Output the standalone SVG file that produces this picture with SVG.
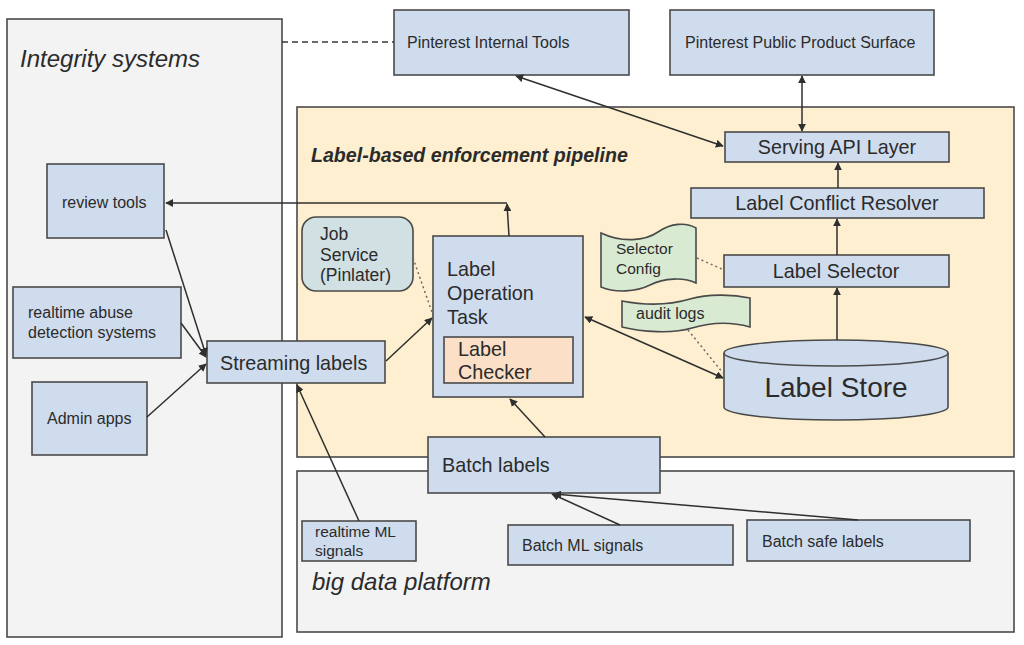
<svg xmlns="http://www.w3.org/2000/svg" width="1024" height="645" viewBox="0 0 1024 645">
<defs>
<style>
text{font-family:"Liberation Sans",Arial,sans-serif;fill:#2b2b2b}
.box{fill:#cfdcee;stroke:#4a4a4a;stroke-width:1.6}
.cont{fill:#f3f3f3;stroke:#4a4a4a;stroke-width:1.6}
.doc{fill:#d9ead3;stroke:#4a4a4a;stroke-width:1.6}
.c{fill:none;stroke:#2f2f2f;stroke-width:1.5}
.dot{fill:none;stroke:#6a6a6a;stroke-width:1.5;stroke-dasharray:2 3}
.s16{font-size:16px}
.s20{font-size:19.8px}
.ti{font-size:24px;font-style:italic}
</style>
<marker id="ah" viewBox="0 0 10 10" refX="9" refY="5" markerWidth="8" markerHeight="8" markerUnits="userSpaceOnUse" orient="auto-start-reverse">
<path d="M0,0 L10,5 L0,10 Z" fill="#2f2f2f"/>
</marker>
</defs>
<rect width="1024" height="645" fill="#ffffff"/>

<g id="integrity-systems">
<rect class="cont" x="7" y="19" width="275" height="618"/>
<text class="ti" x="20" y="67">Integrity systems</text>
</g>
<g id="pipeline">
<rect x="297" y="107" width="717" height="350" fill="#fdefcf" stroke="#4a4a4a" stroke-width="1.6"/>
<text x="311" y="162" style="font-size:19.6px;font-weight:bold;font-style:italic">Label-based enforcement pipeline</text>
</g>
<g id="big-data-platform">
<rect class="cont" x="297" y="471" width="717" height="161"/>
<text class="ti" x="312" y="590">big data platform</text>
</g>

<g id="internal-tools">
<rect class="box" x="394" y="10" width="235" height="65"/>
<text class="s16" x="407" y="48">Pinterest Internal Tools</text>
</g>
<g id="public-surface">
<rect class="box" x="670" y="10" width="264" height="65"/>
<text class="s16" x="685" y="48">Pinterest Public Product Surface</text>
</g>
<g id="serving-api">
<rect class="box" x="725" y="132" width="224" height="30"/>
<text class="s20" x="837" y="154" text-anchor="middle">Serving API Layer</text>
</g>
<g id="conflict-resolver">
<rect class="box" x="691" y="188" width="293" height="30"/>
<text class="s20" x="837" y="210" text-anchor="middle">Label Conflict Resolver</text>
</g>
<g id="label-selector">
<rect class="box" x="724" y="255" width="225" height="32"/>
<text class="s20" x="836" y="278" text-anchor="middle">Label Selector</text>
</g>
<g id="label-store">
<path class="box" d="M724,353 A112,13 0 0 1 948,353 L948,407 A112,13 0 0 1 724,407 Z"/>
<path d="M724,353 A112,13 0 0 0 948,353" fill="none" stroke="#4a4a4a" stroke-width="1.6"/>
<text x="836" y="397" text-anchor="middle" style="font-size:28px">Label Store</text>
</g>
<g id="selector-config">
<path class="doc" d="M601,233 C622,243 645,241 658,232 C671,223 686,222 696,228 L696,283 C684,277 664,278 650,285 C636,292 615,293 601,287 Z"/>
<text x="616" y="254" style="font-size:15.5px">Selector</text>
<text x="616" y="274" style="font-size:15.5px">Config</text>
</g>
<g id="audit-logs">
<path class="doc" d="M622,301 C648,306 670,305 690,299 C710,293 735,295 750,298 L750,327 C732,322 712,322 692,328 C672,334 642,332 622,327 Z"/>
<text class="s16" x="636" y="319">audit logs</text>
</g>
<g id="job-service">
<rect x="302" y="217" width="111" height="74" rx="14" fill="#d0e0e3" stroke="#4a4a4a" stroke-width="1.6"/>
<text x="320" y="240" style="font-size:17.5px">Job</text>
<text x="320" y="261" style="font-size:17.5px">Service</text>
<text x="320" y="281" style="font-size:17.5px">(Pinlater)</text>
</g>
<g id="label-operation-task">
<rect class="box" x="433" y="236" width="150" height="161"/>
<text class="s20" x="447" y="276">Label</text>
<text class="s20" x="447" y="300">Operation</text>
<text class="s20" x="447" y="324">Task</text>
</g>
<g id="label-checker">
<rect x="444" y="337" width="129" height="46" fill="#fbdfc7" stroke="#4a4a4a" stroke-width="1.6"/>
<text class="s20" x="458" y="356">Label</text>
<text class="s20" x="458" y="379">Checker</text>
</g>
<g id="streaming-labels">
<rect class="box" x="207" y="341" width="178" height="42"/>
<text class="s20" x="220" y="370">Streaming labels</text>
</g>
<g id="review-tools">
<rect class="box" x="47" y="164" width="117" height="74"/>
<text class="s16" x="62" y="208">review tools</text>
</g>
<g id="realtime-abuse">
<rect class="box" x="13" y="287" width="168" height="71"/>
<text class="s16" x="28" y="318">realtime abuse</text>
<text class="s16" x="28" y="338">detection systems</text>
</g>
<g id="admin-apps">
<rect class="box" x="32" y="382" width="115" height="73"/>
<text class="s16" x="47" y="424">Admin apps</text>
</g>
<g id="batch-labels">
<rect class="box" x="428" y="437" width="232" height="56"/>
<text class="s20" x="442" y="472">Batch labels</text>
</g>
<g id="realtime-ml-signals">
<rect class="box" x="302" y="521" width="114" height="40"/>
<text x="315" y="537" style="font-size:15.5px">realtime ML</text>
<text x="315" y="556" style="font-size:15.5px">signals</text>
</g>
<g id="batch-ml-signals">
<rect class="box" x="508" y="525" width="225" height="40"/>
<text class="s16" x="522" y="551">Batch ML signals</text>
</g>
<g id="batch-safe-labels">
<rect class="box" x="747" y="520" width="223" height="41"/>
<text class="s16" x="762" y="547">Batch safe labels</text>
</g>

<g id="connectors">
<line x1="282" y1="42" x2="394" y2="42" stroke="#3a3a3a" stroke-width="1.5" stroke-dasharray="6 4"/>
<line class="c" x1="516" y1="76" x2="723" y2="146" marker-start="url(#ah)" marker-end="url(#ah)"/>
<line class="c" x1="802" y1="76" x2="802" y2="131" marker-start="url(#ah)" marker-end="url(#ah)"/>
<line class="c" x1="838" y1="188" x2="838" y2="163" marker-end="url(#ah)"/>
<line class="c" x1="837" y1="255" x2="837" y2="219" marker-end="url(#ah)"/>
<line class="c" x1="837" y1="340" x2="837" y2="288" marker-end="url(#ah)"/>
<line class="c" x1="585" y1="317" x2="723" y2="378" marker-start="url(#ah)" marker-end="url(#ah)"/>
<line class="dot" x1="697" y1="258" x2="724" y2="270"/>
<line class="dot" x1="688" y1="330" x2="723" y2="373"/>
<line class="dot" x1="413" y1="258" x2="433" y2="315"/>
<line class="c" x1="509" y1="236" x2="507" y2="204" marker-end="url(#ah)"/>
<line class="c" x1="507" y1="203" x2="166" y2="203" marker-end="url(#ah)"/>
<line class="c" x1="386" y1="361" x2="432" y2="318" marker-end="url(#ah)"/>
<line class="c" x1="545" y1="437" x2="510" y2="399" marker-end="url(#ah)"/>
<line class="c" x1="166" y1="230" x2="206" y2="355" marker-end="url(#ah)"/>
<line class="c" x1="181" y1="323" x2="206" y2="357" marker-end="url(#ah)"/>
<line class="c" x1="147" y1="417" x2="206" y2="364" marker-end="url(#ah)"/>
<line class="c" x1="359" y1="521" x2="297" y2="385" marker-end="url(#ah)"/>
<line class="c" x1="620" y1="525" x2="552" y2="494" marker-end="url(#ah)"/>
<line class="c" x1="858" y1="520" x2="554" y2="494" marker-end="url(#ah)"/>
</g>
</svg>
